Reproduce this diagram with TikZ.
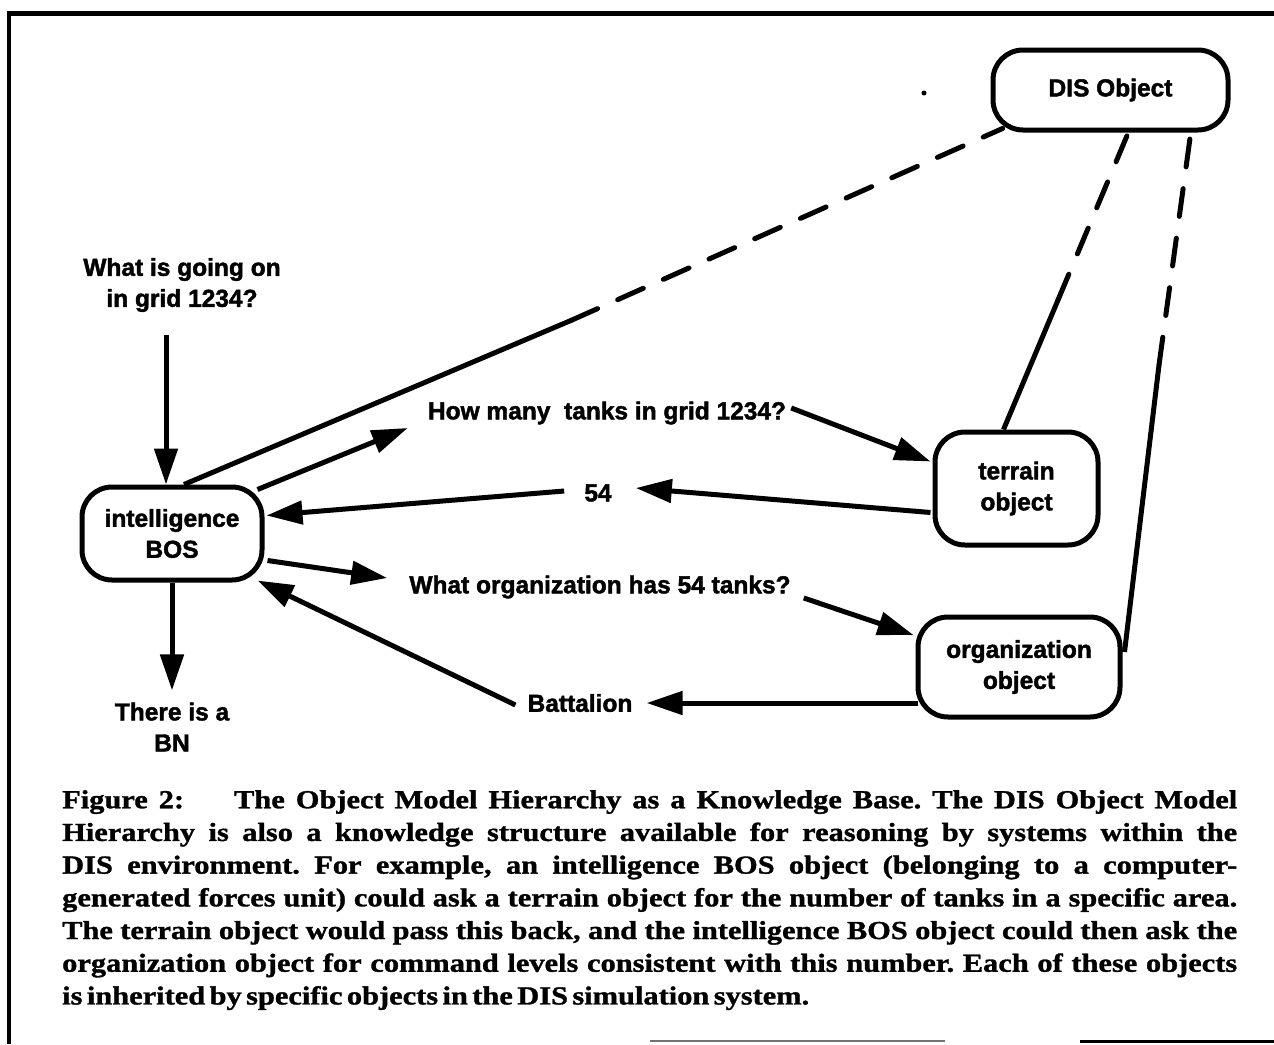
\documentclass[tikz,border=0pt]{standalone}
\usepackage{fontspec}
\setmainfont{Liberation Serif}
\newfontfamily\labelfont{Liberation Sans}[BoldFeatures={FakeBold=1.8}]
\newfontfamily\capfont{Liberation Serif}[BoldFeatures={FakeBold=1.2, FakeStretch=1.17}]
\usetikzlibrary{arrows.meta,calc}

\tikzset{
  labeltext/.style={font=\labelfont\bfseries\fontsize{24.5}{31}\selectfont, align=center, inner sep=0pt},
  objbox/.style={labeltext, draw, line width=5pt, rounded corners=30pt},
  link/.style={line width=5pt},
  dlink/.style={line width=5pt, dash pattern=on 28pt off 22pt, line cap=round},
  arr/.style={line width=5pt, -{Triangle[length=36pt,width=23pt]}},
}

\begin{document}
\begin{tikzpicture}[x=1pt, y=-1pt]
  \useasboundingbox (0,0) rectangle (1274,1044);

  % frame
  \draw[line width=5pt] (7,13) -- (1274,13);
  \draw[line width=4pt] (9,11) -- (9,1044);
  \draw[line width=2pt, black!55] (650,1041) -- (945,1041);
  \draw[line width=3pt] (1080,1041) -- (1274,1041);

  % objects
  \node[objbox, minimum width=235, minimum height=80] (dis) at (1110.5,90) {DIS Object};
  \node[objbox, minimum width=163, minimum height=113] (terrain) at (1016.5,488.5) {terrain\\object};
  \node[objbox, minimum width=202, minimum height=100] (org) at (1019,667) {organization\\object};
  \node[objbox, minimum width=180, minimum height=93] (intel) at (172,533.5) {intelligence\\BOS};

  % messages
  \node[labeltext] (q1) at (182,285) {What is going on\\in grid 1234?};
  \node[labeltext] (ans) at (172,727) {There is a\\BN};
  \node[labeltext] (how) at (607,413) {How many\ \ tanks in grid 1234?};
  \node[labeltext] (n54) at (598,493) {54};
  \node[labeltext] (what) at (600,587) {What organization has 54 tanks?};
  \node[labeltext] (batt) at (580,703) {Battalion};

  % inheritance links to the DIS Object
  \coordinate (k1) at (572,320);
  \coordinate (k2) at (1058,300);
  \coordinate (k3) at (1159,365);
  \draw[link] ($(intel.north)+(12,0)$) -- (k1);
  \draw[dlink] (k1) -- ($(dis.south west)+(12,-4)$);
  \draw[link] ($(terrain.north)+(-13,0)$) -- (k2);
  \draw[dlink] (k2) -- ($(dis.south)+(17,2)$);
  \draw[link] ($(org.east)+(2,-15)$) -- (k3);
  \draw[dlink] (k3) -- ($(dis.south)+(80,2)$);

  % message flow
  \draw[arr] ($(q1.south)+(-16,23)$) -- ($(intel.north)+(-6,0)$);
  \draw[arr] (intel.south) -- ($(ans.north)+(0,-12)$);
  \draw[arr] ($(intel.north east)+(-7,5)$) -- ($(how.west)+(-20,15)$);
  \draw[arr] ($(how.east)+(5,-5)$) -- ($(terrain.west)+(-2,-27)$);
  \draw[arr] ($(terrain.west)+(-2,24)$) -- ($(n54.east)+(24,-5)$);
  \draw[arr] ($(n54.west)+(-20,-2)$) -- ($(intel.east)+(2,-18)$);
  \draw[arr] ($(intel.east)+(3,27)$) -- ($(what.west)+(-22,-9)$);
  \draw[arr] ($(what.east)+(13,11)$) -- ($(org.west)+(-2,-32)$);
  \draw[arr] ($(org.west)+(2,36)$) -- ($(batt.east)+(14,0)$);
  \draw[arr] ($(batt.west)+(-12,2)$) -- ($(intel.south east)+(-7,-2)$);

  \fill (924,93) circle (2.5);

  % caption
  \node[anchor=north west, inner sep=0pt, text width=1175pt, align=justify,
        font=\capfont\bfseries\fontsize{26}{32.7}\selectfont] (cap) at (62,790)
  {\frenchspacing\hyphenpenalty=10000\tolerance=9999\emergencystretch=0pt
   \fontdimen2\font=0.17em
   Figure 2:\hspace{50pt}The Object Model Hierarchy as a Knowledge Base. The DIS Object Model\linebreak
   Hierarchy is also a knowledge structure available for reasoning by systems within the\linebreak
   DIS environment. For example, an intelligence BOS object (belonging to a computer-\linebreak
   generated forces unit) could ask a terrain object for the number of tanks in a specific area.\linebreak
   The terrain object would pass this back, and the intelligence BOS object could then ask the\linebreak
   organization object for command levels consistent with this number. Each of these objects\linebreak
   is inherited by specific objects in the DIS simulation system.\par};
\end{tikzpicture}
\end{document}
